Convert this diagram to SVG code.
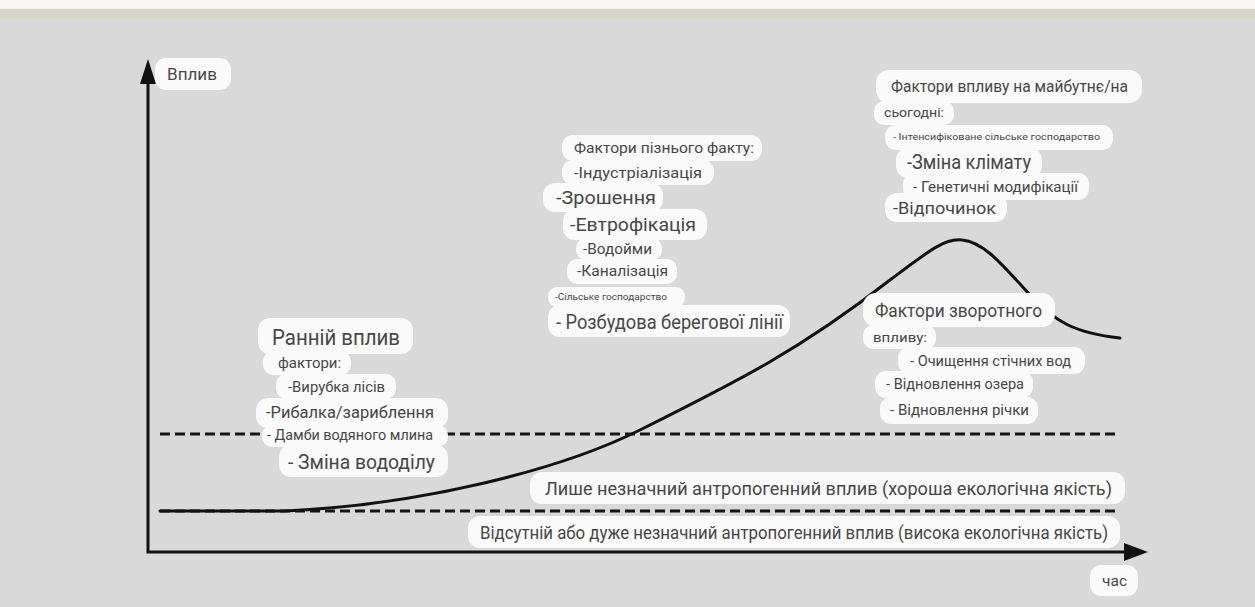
<svg xmlns="http://www.w3.org/2000/svg" width="1255" height="607" viewBox="0 0 1255 607">
<style>
.bg{fill:#d9d9d9}
.box{fill:#fafafa}
.t{font-family:Roboto,"Noto Sans","Liberation Sans",sans-serif;fill:#474747}
.axis{stroke:#111;stroke-width:3;fill:none}
.dash{stroke:#151515;stroke-width:3;stroke-dasharray:10 5;fill:none}
.curve{stroke:#111;stroke-width:3;fill:none;stroke-linecap:round}
</style>
<rect x="0" y="0" width="1255" height="607" class="bg"/>
<rect x="0" y="0" width="1255" height="9" fill="#f6f6f2"/>
<rect x="0" y="9" width="1255" height="10" fill="#d8d6c6"/>

<g id="connectors">
<line class="dash" x1="160" y1="434" x2="1120" y2="434"/>
<line class="dash" x1="160" y1="511" x2="1120" y2="511"/>
<path class="curve" d="M160,511 L285,511 C420,505 560,470 640,430 C740,380 800,350 890,280 C930,250 945,238 962,240 C985,242 1005,268 1030,295 C1055,322 1075,333 1120,338"/>
<path class="axis" d="M148,80 L148,552 L1128,552"/>
<path d="M148,59 L156,84 L140,84 z" fill="#111"/>
<path d="M1148,552 L1124,543 L1124,561 z" fill="#111"/>
</g>

<g id="axis-y-label">
<rect class="box" x="155" y="58" width="76" height="32" rx="11"/>
<text class="t" x="167" y="80" font-size="16" textLength="50" lengthAdjust="spacingAndGlyphs">Вплив</text>
</g>
<g id="axis-x-label">
<rect class="box" x="1090" y="565" width="48" height="31" rx="11"/>
<text class="t" x="1102" y="586" font-size="14" textLength="25" lengthAdjust="spacingAndGlyphs">час</text>
</g>

<g id="good-quality">
<rect class="box" x="530" y="472" width="595" height="32" rx="12"/>
<text class="t" x="545" y="495" font-size="19" textLength="567" lengthAdjust="spacingAndGlyphs">Лише незначний антропогенний вплив (хороша екологічна якість)</text>
</g>
<g id="high-quality">
<rect class="box" x="468" y="516" width="652" height="32" rx="12"/>
<text class="t" x="480" y="539" font-size="19" textLength="628" lengthAdjust="spacingAndGlyphs">Відсутній або дуже незначний антропогенний вплив (висока екологічна якість)</text>
</g>

<g id="early">
<rect class="box" x="258" y="318" width="155" height="36" rx="12"/>
<rect class="box" x="263" y="351" width="88" height="24" rx="10"/>
<rect class="box" x="276" y="374" width="120" height="25" rx="10"/>
<rect class="box" x="256" y="398" width="192" height="30" rx="12"/>
<rect class="box" x="262" y="425" width="186" height="22" rx="10"/>
<rect class="box" x="279" y="445" width="169" height="32" rx="12"/>
<text class="t" x="272" y="345" font-size="22" textLength="128" lengthAdjust="spacingAndGlyphs">Ранній вплив</text>
<text class="t" x="278" y="368" font-size="14" textLength="63" lengthAdjust="spacingAndGlyphs">фактори:</text>
<text class="t" x="288" y="392" font-size="14" textLength="97" lengthAdjust="spacingAndGlyphs">-Вирубка лісів</text>
<text class="t" x="266" y="418" font-size="17" textLength="168" lengthAdjust="spacingAndGlyphs">-Рибалка/зариблення</text>
<text class="t" x="267" y="440" font-size="14" textLength="166" lengthAdjust="spacingAndGlyphs">- Дамби водяного млина</text>
<text class="t" x="288" y="469" font-size="20" textLength="147" lengthAdjust="spacingAndGlyphs">- Зміна вододілу</text>
</g>

<g id="late">
<rect class="box" x="562" y="135" width="200" height="26" rx="11"/>
<rect class="box" x="562" y="160" width="152" height="25" rx="11"/>
<rect class="box" x="543" y="183" width="120" height="29" rx="12"/>
<rect class="box" x="563" y="209" width="144" height="31" rx="12"/>
<rect class="box" x="576" y="238" width="86" height="22" rx="10"/>
<rect class="box" x="567" y="259" width="110" height="25" rx="10"/>
<rect class="box" x="548" y="287" width="137" height="20" rx="9"/>
<rect class="box" x="548" y="305" width="242" height="32" rx="12"/>
<text class="t" x="574" y="153" font-size="15" textLength="180" lengthAdjust="spacingAndGlyphs">Фактори пізнього факту:</text>
<text class="t" x="574" y="178" font-size="15" textLength="128" lengthAdjust="spacingAndGlyphs">-Індустріалізація</text>
<text class="t" x="556" y="204" font-size="19" textLength="100" lengthAdjust="spacingAndGlyphs">-Зрошення</text>
<text class="t" x="570" y="231" font-size="19" textLength="126" lengthAdjust="spacingAndGlyphs">-Евтрофікація</text>
<text class="t" x="583" y="254" font-size="14" textLength="69" lengthAdjust="spacingAndGlyphs">-Водойми</text>
<text class="t" x="577" y="276" font-size="14" textLength="91" lengthAdjust="spacingAndGlyphs">-Каналізація</text>
<text class="t" x="555" y="300" font-size="9" textLength="112" lengthAdjust="spacingAndGlyphs">-Сільське господарство</text>
<text class="t" x="556" y="329" font-size="20" textLength="227" lengthAdjust="spacingAndGlyphs">- Розбудова берегової лінії</text>
</g>

<g id="future">
<rect class="box" x="876" y="70" width="266" height="33" rx="13"/>
<rect class="box" x="874" y="101" width="80" height="24" rx="10"/>
<rect class="box" x="885" y="125" width="228" height="25" rx="11"/>
<rect class="box" x="896" y="148" width="146" height="30" rx="12"/>
<rect class="box" x="903" y="173" width="186" height="27" rx="11"/>
<rect class="box" x="885" y="193" width="122" height="29" rx="12"/>
<text class="t" x="891" y="92" font-size="17" textLength="237" lengthAdjust="spacingAndGlyphs">Фактори впливу на майбутнє/на</text>
<text class="t" x="884" y="117" font-size="13" textLength="60" lengthAdjust="spacingAndGlyphs">сьогодні:</text>
<text class="t" x="893" y="140" font-size="9.5" textLength="207" lengthAdjust="spacingAndGlyphs">- Інтенсифіковане сільське господарство</text>
<text class="t" x="907" y="169" font-size="20" textLength="124" lengthAdjust="spacingAndGlyphs">-Зміна клімату</text>
<text class="t" x="913" y="192" font-size="14" textLength="165" lengthAdjust="spacingAndGlyphs">- Генетичні модифікації</text>
<text class="t" x="893" y="214" font-size="16" textLength="103" lengthAdjust="spacingAndGlyphs">-Відпочинок</text>
</g>

<g id="reverse">
<rect class="box" x="863" y="293" width="192" height="34" rx="13"/>
<rect class="box" x="863" y="325" width="73" height="24" rx="10"/>
<rect class="box" x="898" y="347" width="187" height="27" rx="11"/>
<rect class="box" x="875" y="371" width="158" height="27" rx="11"/>
<rect class="box" x="880" y="397" width="158" height="27" rx="11"/>
<text class="t" x="875" y="317" font-size="18" textLength="167" lengthAdjust="spacingAndGlyphs">Фактори зворотного</text>
<text class="t" x="873" y="342" font-size="13" textLength="54" lengthAdjust="spacingAndGlyphs">впливу:</text>
<text class="t" x="910" y="366" font-size="14" textLength="161" lengthAdjust="spacingAndGlyphs">- Очищення стічних вод</text>
<text class="t" x="886" y="389" font-size="14" textLength="138" lengthAdjust="spacingAndGlyphs">- Відновлення озера</text>
<text class="t" x="890" y="415" font-size="14" textLength="139" lengthAdjust="spacingAndGlyphs">- Відновлення річки</text>
</g>
</svg>
